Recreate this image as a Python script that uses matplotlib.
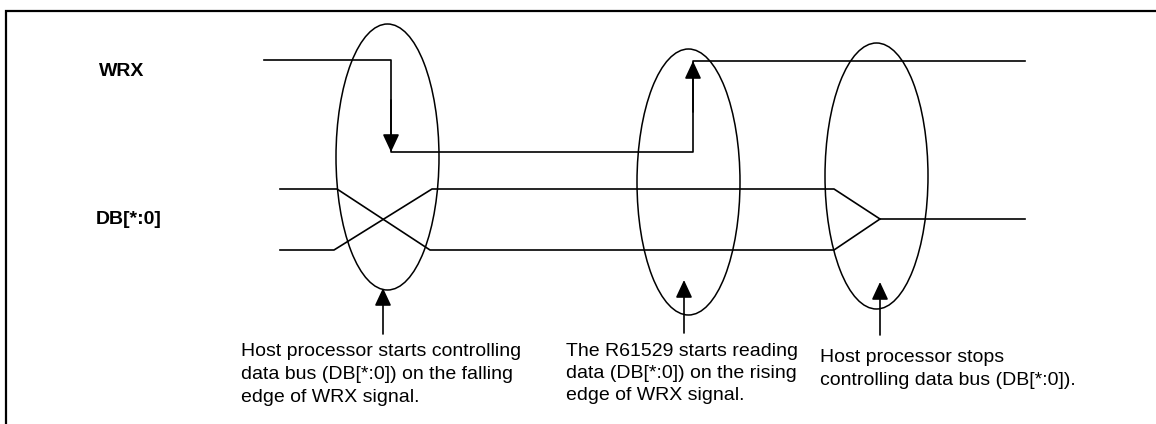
import matplotlib
matplotlib.use("Agg")
import matplotlib.pyplot as plt
from matplotlib.patches import Ellipse

plt.rcParams['font.family'] = ['Liberation Sans', 'DejaVu Sans']

W, H = 1156, 424

# signal labels
labels = ["WRX", "DB[*:0]"]
label_x = [99, 96]
label_y = [72, 219]

# WRX waveform (pixel coords, y downwards)
wrx_x = [264, 391, 391, 693, 693, 1025]
wrx_y = [60, 60, 152, 152, 61, 61]

# data bus waveform, two traces
db_a_x = [280, 337, 430, 834, 880, 1025]
db_a_y = [189, 189, 250, 250, 219, 219]
db_b_x = [280, 334, 432, 834, 880]
db_b_y = [250, 250, 189, 189, 219]

# highlight ellipses
ell_cx = [387.5, 688.5, 876.5]
ell_cy = [157, 182, 176]
ell_w = 103
ell_h = 266

# pointer arrows under the ellipses
arr_x = [383, 684, 880]
arr_tip = [288, 280, 282]
arr_tail = [334, 333, 335]

captions = [
    ["Host processor starts controlling", "data bus (DB[*:0]) on the falling", "edge of WRX signal."],
    ["The R61529 starts reading", "data (DB[*:0]) on the rising", "edge of WRX signal."],
    ["Host processor stops", "controlling data bus (DB[*:0])."],
]
cap_x = [241, 566, 820]
cap_y = [352, 351, 358]
pitch = 22.5

fig = plt.figure(figsize=(W / 100, H / 100), dpi=100)
ax = fig.add_axes([0, 0, 1, 1])
ax.set_xlim(0, W)
ax.set_ylim(H, 0)
ax.axis('off')

# frame (top and left only)
ax.plot([6, 6, W], [H, 11, 11], color='black', lw=1.6, solid_joinstyle='miter')

ax.plot(wrx_x, wrx_y, color='black', lw=1.2)
ax.plot(db_a_x, db_a_y, color='black', lw=1.2)
ax.plot(db_b_x, db_b_y, color='black', lw=1.2)

head = dict(arrowstyle='-|>,head_length=0.6,head_width=0.28', mutation_scale=18,
            color='black', lw=1.2, shrinkA=0, shrinkB=0)
# edge arrows on WRX
ax.annotate('', xy=(wrx_x[2], wrx_y[2]), xytext=(wrx_x[1], wrx_y[1] + 40), arrowprops=head)
ax.annotate('', xy=(wrx_x[4], wrx_y[4]), xytext=(wrx_x[3], wrx_y[3] - 40), arrowprops=head)

for cx, cy in zip(ell_cx, ell_cy):
    ax.add_patch(Ellipse((cx, cy), ell_w, ell_h, fill=False, ec='black', lw=1.1))

for x, tip, tail in zip(arr_x, arr_tip, arr_tail):
    ax.annotate('', xy=(x, tip), xytext=(x, tail), arrowprops=head)

for s, x, y in zip(labels, label_x, label_y):
    ax.text(x, y, s, fontsize=14, fontweight='bold', ha='left', va='center')

for lines, x, y in zip(captions, cap_x, cap_y):
    for i, line in enumerate(lines):
        ax.text(x, y + i * pitch, line, fontsize=14, ha='left', va='center')

fig.savefig("out.png", dpi=100)
